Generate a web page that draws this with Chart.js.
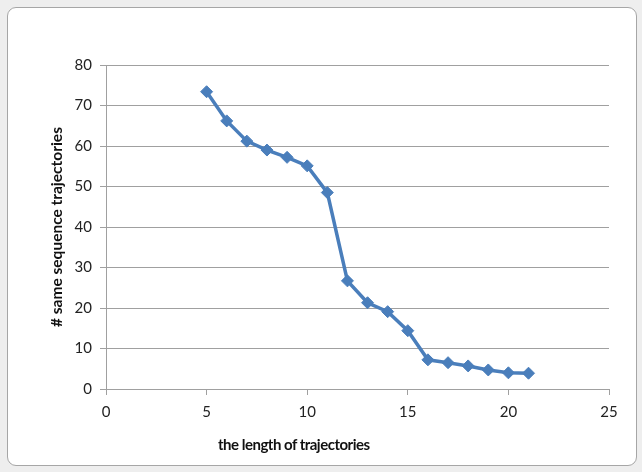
<!DOCTYPE html>
<html>
<head>
<meta charset="utf-8">
<script src="https://cdn.jsdelivr.net/npm/chart.js@4/dist/chart.umd.min.js"></script>
<style>
  body { margin: 0; background: #eeeeee; width: 642px; height: 472px; overflow: hidden; }
  #frame {
    position: absolute; left: 7px; top: 7px; width: 628px; height: 457px;
    background: #fff; border: 1px solid #a6a6a6; border-radius: 9px;
  }
  #chartBox { position: absolute; left: 1px; top: 1px; width: 626px; height: 455px; }
  #xTitle {
    position: absolute; left: 210px; top: 427px;
    font: bold 15px Lato, "Liberation Sans", sans-serif; letter-spacing: -0.5px; color: #111;
  }
</style>
</head>
<body>
<div id="frame">
  <div id="chartBox"><canvas id="myChart" width="626" height="455"></canvas></div>
  <div id="xTitle">the length of trajectories</div>
</div>
<script>
// length of trajectory vs # same sequence trajectories
const lengths = [5, 6, 7, 8, 9, 10, 11, 12, 13, 14, 15, 16, 17, 18, 19, 20, 21];
const sameCounts = [73.4, 66.2, 61.2, 59.0, 57.2, 55.1, 48.5, 26.7, 21.3, 19.1, 14.4, 7.2, 6.5, 5.7, 4.7, 4.0, 3.9];
const xTicks = [0, 5, 10, 15, 20, 25];
const yTicks = [0, 10, 20, 30, 40, 50, 60, 70, 80];

const yTitle = "# same sequence trajectories";
const blue = "#4a7ebb";
const gridGray = "#a0a0a0";

function initChart(canvas) {
  const points = lengths.map((x, i) => ({ x: x, y: sameCounts[i] }));

  const config = {
    type: "scatter",
    data: {
      datasets: [
        {
          data: points,
          showLine: true,
          borderColor: blue,
          backgroundColor: blue,
          borderWidth: 3.5,
          pointStyle: "rectRot",
          pointRadius: 6,
          pointBorderWidth: 1,
          pointBorderColor: blue,
          pointBackgroundColor: blue,
        },
      ],
    },
    options: {
      responsive: false,
      animation: false,
      layout: { padding: { top: 56, right: 26, left: 0, bottom: 0 } },
      plugins: { legend: { display: false }, tooltip: { enabled: false } },
      scales: {
        x: {
          type: "linear",
          min: xTicks[0],
          max: xTicks[xTicks.length - 1],
          afterFit: (scale) => { scale.height = 75; },
          afterBuildTicks: (scale) => { scale.ticks = xTicks.map(v => ({ value: v })); },
          grid: { drawOnChartArea: false, drawTicks: true, tickLength: 6, color: gridGray },
          border: { color: gridGray, width: 1 },
          ticks: { color: "#222", padding: 8, font: { family: "Lato", size: 15 } },
        },
        y: {
          type: "linear",
          min: yTicks[0],
          max: yTicks[yTicks.length - 1],
          afterFit: (scale) => { scale.width = 97; },
          afterBuildTicks: (scale) => { scale.ticks = yTicks.map(v => ({ value: v })); },
          grid: { color: gridGray, tickLength: 6, lineWidth: 1 },
          border: { color: gridGray, width: 1 },
          ticks: { color: "#222", padding: 8, font: { family: "Lato", size: 15 } },
          title: {
            display: true,
            text: yTitle,
            color: "#111",
            padding: { top: 39 },
            font: { family: "Lato", size: 15.5, weight: "bold" },
          },
        },
      },
    },
  };

  return new Chart(canvas, config);
}

document.addEventListener("DOMContentLoaded", () => {
  initChart(document.querySelector("#myChart"));
});
</script>
</body>
</html>
